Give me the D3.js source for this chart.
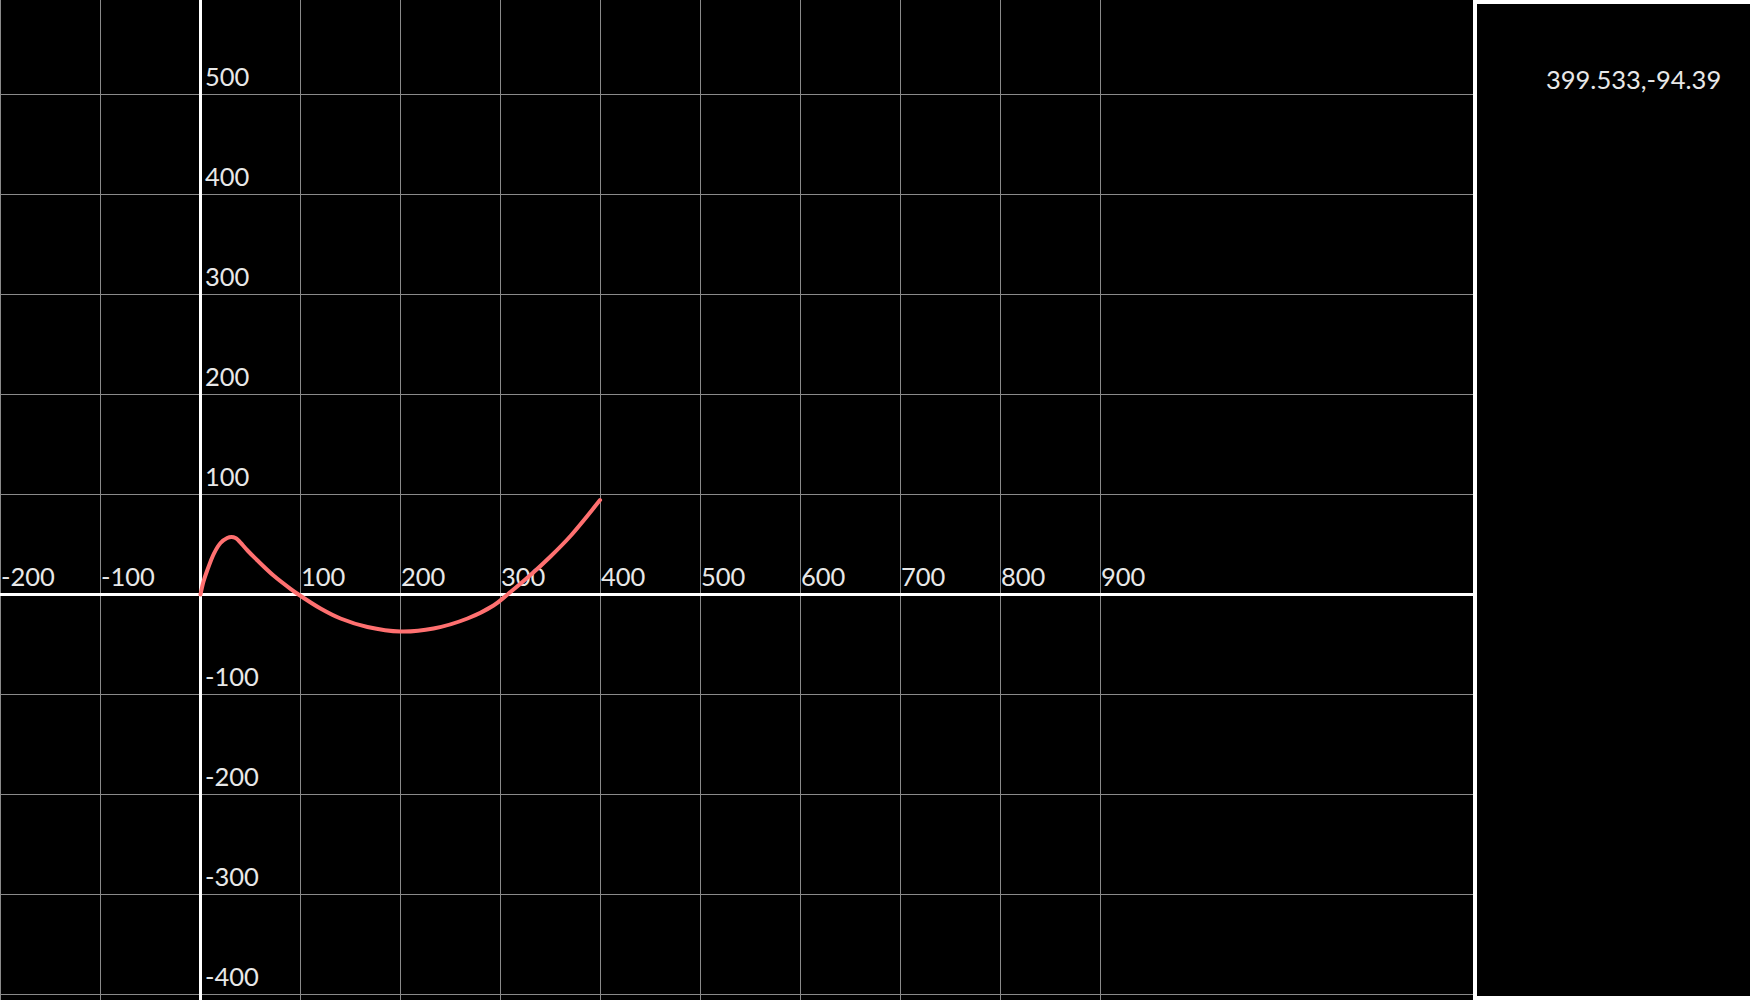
<!DOCTYPE html>
<html>
<head>
<meta charset="utf-8">
<script src="https://cdn.jsdelivr.net/npm/d3@7"></script>
<style>
  html, body { margin: 0; padding: 0; background: #000; overflow: hidden; }
  svg { display: block; }
  text { font-family: Lato, "Noto Sans", sans-serif; }
</style>
</head>
<body>
<script>
// ---- data ----
const curveX = [0, 3, 6.7, 13.3, 20, 26.7, 31, 35, 38, 47, 57, 73, 90, 98, 120, 140, 167, 200, 233, 267, 293, 307, 330, 350, 370, 399.533];
const curveY = [0, 13, 24, 40.7, 51.5, 56.5, 57.5, 56.5, 54, 44, 34, 19, 5.7, 0, -14, -24, -32.5, -37, -34, -24, -11, 0, 19.5, 38, 58.5, 94.39];
const xTickLabels = [-200, -100, 100, 200, 300, 400, 500, 600, 700, 800, 900];
const yTickLabels = [500, 400, 300, 200, 100, -100, -200, -300, -400];
const gridXValues = [-200, -100, 0, 100, 200, 300, 400, 500, 600, 700, 800, 900];
const gridYValues = [600, 500, 400, 300, 200, 100, 0, -100, -200, -300, -400];
const readout = "399.533,-94.39";

const W = 1750, H = 1000;
const svg = d3.select("body").append("svg").attr("width", W).attr("height", H);

const x = d3.scaleLinear().domain([0, 100]).range([200.5, 300.5]);
const y = d3.scaleLinear().domain([0, 100]).range([594.5, 494.5]);

svg.append("rect").attr("width", W).attr("height", H).attr("fill", "#000");

// grid
const grid = svg.append("g").attr("stroke", "#8a8a8a").attr("stroke-width", 1);
grid.selectAll("line.v").data(gridXValues).join("line").attr("class", "v")
  .attr("x1", d => x(d)).attr("x2", d => x(d)).attr("y1", 0).attr("y2", H);
grid.selectAll("line.h").data(gridYValues).join("line").attr("class", "h")
  .attr("x1", 0).attr("x2", W).attr("y1", d => y(d)).attr("y2", d => y(d));

// main axes
svg.append("line").attr("x1", 0).attr("x2", W).attr("y1", y(0)).attr("y2", y(0))
  .attr("stroke", "#fff").attr("stroke-width", 3);
svg.append("line").attr("x1", x(0)).attr("x2", x(0)).attr("y1", 0).attr("y2", H)
  .attr("stroke", "#fff").attr("stroke-width", 3);

// tick labels
svg.selectAll("text.xl").data(xTickLabels).join("text").attr("class", "xl")
  .attr("x", d => x(d) + 0.5).attr("y", y(0) - 8.5)
  .attr("fill", "#e8e8e8").attr("font-size", 25.5).text(d => d);
svg.selectAll("text.yl").data(yTickLabels).join("text").attr("class", "yl")
  .attr("x", x(0) + 4.5).attr("y", d => y(d) - 8.5)
  .attr("fill", "#e8e8e8").attr("font-size", 25.5).text(d => d);

// curve
const pts = curveX.map((d, i) => [d, curveY[i]]);
const line = d3.line().x(d => x(d[0])).y(d => y(d[1])).curve(d3.curveCatmullRom.alpha(0.5));
svg.append("path").datum(pts).attr("d", line)
  .attr("fill", "none").attr("stroke", "#ff7070").attr("stroke-width", 4)
  .attr("stroke-linecap", "round").attr("stroke-linejoin", "round");

// side panel
svg.append("rect").attr("x", 1475).attr("y", 2).attr("width", 400).attr("height", 996)
  .attr("fill", "#000").attr("stroke", "#fff").attr("stroke-width", 4);
svg.append("text").attr("x", 1546).attr("y", 89).attr("fill", "#e8e8e8")
  .attr("font-size", 25.5).text(readout);
</script>
</body>
</html>
